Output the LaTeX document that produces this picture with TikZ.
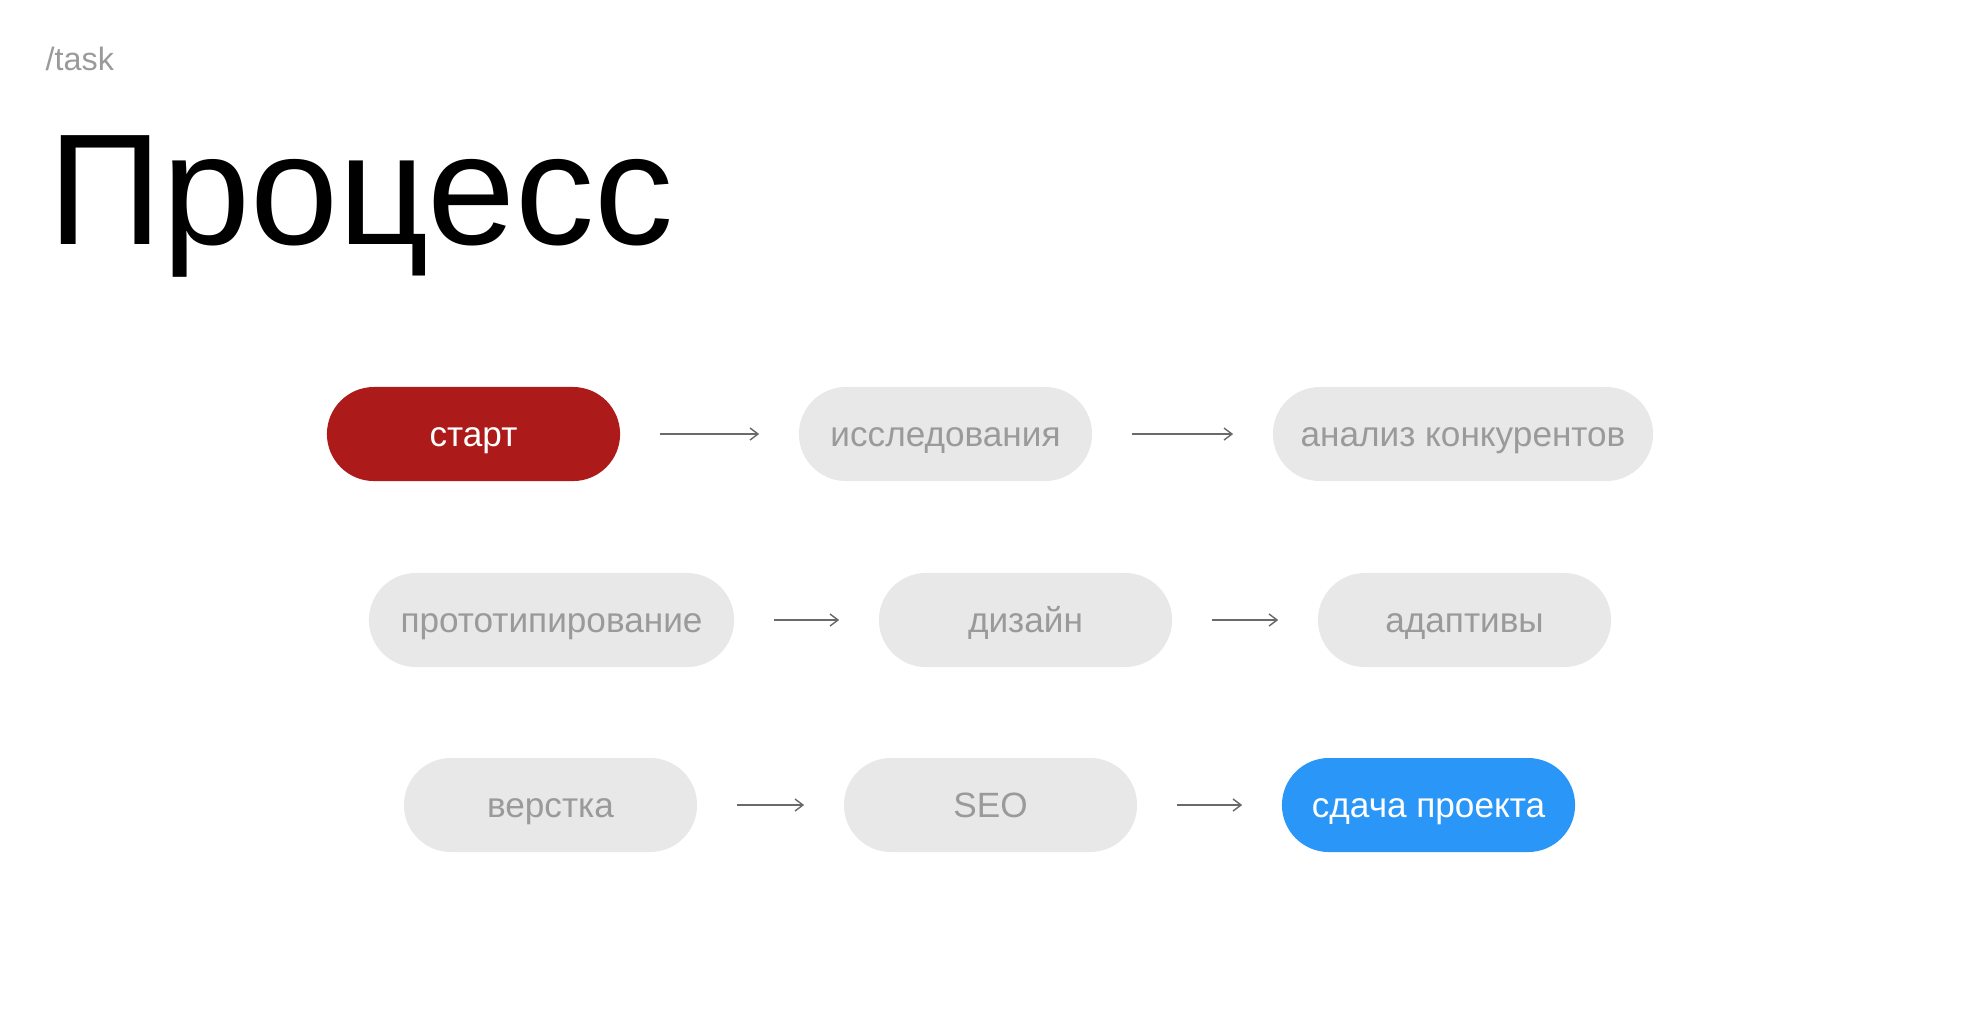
\documentclass[tikz,border=0pt]{standalone}
\usepackage{fontspec}
\setmainfont{Liberation Sans}
\usepackage{tikz}
\usetikzlibrary{arrows.meta}

\definecolor{startred}{HTML}{AD1A1A}
\definecolor{doneblue}{HTML}{2A96F8}
\definecolor{pillgray}{HTML}{E8E8E8}
\definecolor{textgray}{HTML}{9A9A9A}
\definecolor{arrowgray}{HTML}{6A6A6A}

\begin{document}
\begin{tikzpicture}[x=0.01cm, y=-0.01cm,
    pill/.style={fill=pillgray, text=textgray, rounded corners=4.7mm, minimum width=2.93cm, minimum height=0.94cm, inner sep=0pt, text height=1.5ex, text depth=0.2ex, font=\fontsize{10}{12}\selectfont},
    flow/.style={-{Straight Barb[length=0.8mm, width=1.2mm]}, arrowgray, line width=0.4pt, shorten <=3.9mm, shorten >=3.9mm}]
        \useasboundingbox (0, 0) rectangle (1980, 1020);

        \node [anchor=base west, inner sep=0pt, text=textgray, font=\fontsize{9.2}{11}\selectfont] (tag) at (45, 70) {/task};
        \node [anchor=base west, inner sep=0pt, font=\fontsize{45}{52}\selectfont] (title) at (48, 244) {Процесс};

        \node [pill, fill=startred, text=white] (start) at (473.5, 434) {старт};
        \node [pill] (research) at (945.5, 434) {исследования};
        \node [pill, minimum width=3.8cm] (rivals) at (1463, 434) {анализ конкурентов};

        \node [pill, minimum width=3.65cm] (proto) at (551.5, 620) {прототипирование};
        \node [pill] (design) at (1025.5, 620) {дизайн};
        \node [pill] (adapt) at (1464.5, 620) {адаптивы};

        \node [pill] (layout) at (550.5, 805) {верстка};
        \node [pill] (seo) at (990.5, 805) {SEO};
        \node [pill, fill=doneblue, text=white] (deliver) at (1428.5, 805) {сдача проекта};

        \draw [flow] (start) -- (research);
        \draw [flow] (research) -- (rivals);
        \draw [flow] (proto) -- (design);
        \draw [flow] (design) -- (adapt);
        \draw [flow] (layout) -- (seo);
        \draw [flow] (seo) -- (deliver);
      \end{tikzpicture}
\end{document}
